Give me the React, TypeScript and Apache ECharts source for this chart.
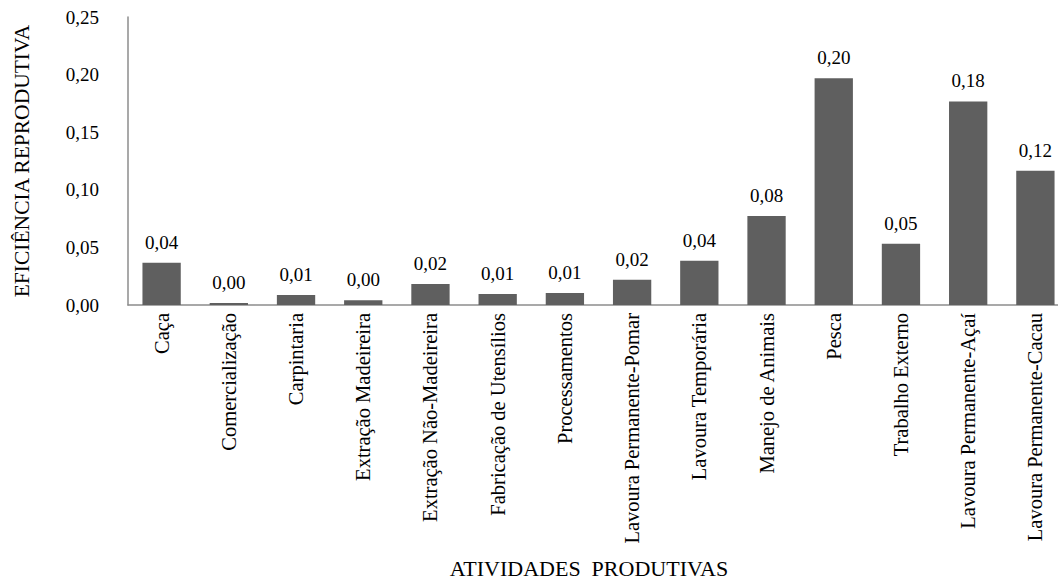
import React, { useEffect, useRef } from "react";
import * as echarts from "echarts";

const categories = [
  "Caça",
  "Comercialização",
  "Carpintaria",
  "Extração Madeireira",
  "Extração Não-Madeireira",
  "Fabricação de Utensílios",
  "Processamentos",
  "Lavoura Permanente-Pomar",
  "Lavoura Temporária",
  "Manejo de Animais",
  "Pesca",
  "Trabalho Externo",
  "Lavoura Permanente-Açaí",
  "Lavoura Permanente-Cacau",
];

const values = [
  0.0367, 0.0018, 0.0087, 0.0041, 0.0182, 0.0096, 0.0104, 0.022, 0.0384,
  0.0772, 0.1968, 0.0531, 0.1767, 0.1166,
];

const yName = "EFICIÊNCIA REPRODUTIVA";
const xName = "ATIVIDADES  PRODUTIVAS";

const FONT = "'Times New Roman', Times, 'Liberation Serif', 'DejaVu Serif', serif";
const fmt = (v: number) => v.toFixed(2).replace(".", ",");

export default function App() {
  const ref = useRef<HTMLDivElement>(null);

  useEffect(() => {
    document.body.style.margin = "0";
    document.body.style.overflow = "hidden";
    if (!ref.current) return;
    const chart = echarts.init(ref.current, undefined, { renderer: "svg" });
    const txt = { fontFamily: FONT, fontSize: 19, color: "#000" };
    chart.setOption({
      animation: false,
      backgroundColor: "#ffffff",
      textStyle: { fontFamily: FONT },
      grid: { left: 128, top: 17, width: 941, bottom: 273, containLabel: false },
      xAxis: {
        type: "category",
        data: categories,
        name: xName,
        nameLocation: "middle",
        nameGap: 252,
        nameTextStyle: { ...txt, fontSize: 22, padding: [0, 19, 0, 0] },
        axisLine: { lineStyle: { color: "#8c8c8c", width: 1.5 } },
        axisTick: { show: false },
        axisLabel: { ...txt, fontSize: 20.5, rotate: 90, interval: 0, margin: 8 },
      },
      yAxis: {
        type: "value",
        min: 0,
        max: 0.25,
        interval: 0.05,
        name: yName,
        nameLocation: "middle",
        nameRotate: 90,
        nameGap: 95,
        nameTextStyle: { ...txt, fontSize: 21.5 },
        axisLine: { show: true, lineStyle: { color: "#8c8c8c", width: 1.5 } },
        axisTick: { show: false },
        splitLine: { show: false },
        axisLabel: { ...txt, margin: 29, formatter: (v: number) => fmt(v) },
      },
      series: [
        {
          type: "bar",
          data: values,
          barCategoryGap: "43%",
          itemStyle: { color: "#5f5f5f" },
          label: {
            ...txt,
            show: true,
            position: "top",
            distance: 11,
            formatter: (p: any) => fmt(p.value),
          },
        },
      ],
    });
    return () => chart.dispose();
  }, []);

  return (
    <div
      ref={ref}
      style={{ position: "fixed", left: 0, top: 0, width: 1080, height: 580 }}
    />
  );
}
